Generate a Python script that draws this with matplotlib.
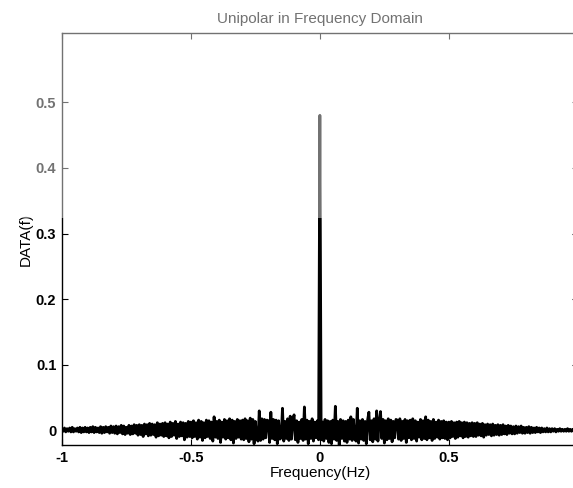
import numpy as np
import matplotlib
matplotlib.use("Agg")
import matplotlib.pyplot as plt
from matplotlib.patches import Rectangle

# Frequency axis: -1 Hz to just below 1 Hz in 0.005 Hz steps (400 bins)
freq_start = -1.0
freq_step = 0.005

# Spectrum of the unipolar signal, in thousandths (one row per 0.1 Hz)
data_f_milli = [
    3, -1, 4, -2, 3, -1, 4, -2, 5, -2, 3, -1, 4, -2, 5, -3, 4, -2, 5, -2,
    4, -3, 5, -2, 6, -3, 5, -2, 4, -3, 6, -4, 5, -3, 6, -2, 5, -4, 7, -3,
    6, -4, 7, -5, 6, -3, 8, -5, 7, -6, 5, -4, 8, -6, 7, -5, 9, -4, 8, -7,
    9, -6, 8, -9, 10, -5, 9, -8, 11, -7, 10, -6, 9, -10, 12, -8, 10, -7, 11, -9,
    12, -8, 10, -11, 13, -9, 11, -7, 14, -12, 10, -9, 13, -8, 12, -14, 11, -10, 14, -9,
    13, -11, 15, -9, 12, -13, 16, -10, 14, -15, 12, -11, 16, -9, 15, -12, 13, -16, 21, -10,
    14, -12, 16, -18, 13, -10, 17, -13, 15, -11, 18, -14, 16, -19, 14, -12, 17, -10, 15, -13,
    16, -14, 18, -12, 15, -17, 19, -13, 17, -20, 14, -12, -16, 30, -15, 18, -13, 17, -11, 16,
    15, -18, 28, -12, 17, -14, 16, -20, 15, -13, -11, 34, -16, 14, -12, 18, -15, 22, -13, 16,
    24, -14, 15, -18, 13, -12, 17, -15, 36, -13, 16, -20, 14, -12, 18, -16, 13, -11, 15, -14,
    480, -14, 13, -16, 17, -12, 15, -18, 14, -20, 16, -13, 37, -15, 14, -22, 17, -12, 15, -16,
    14, -18, 16, -13, 21, -15, 17, -12, -16, 34, -19, 15, -13, 17, -15, 14, -20, 16, 28, -14,
    15, -17, 18, -13, 30, -16, 14, 29, -12, 17, -19, 15, -14, 18, -12, 16, -17, 14, -11, 17,
    16, -13, 18, -15, 14, -12, 17, -18, 15, -11, 16, -14, 18, -12, 15, -16, 13, -10, 17, -14,
    15, -12, 21, -14, 16, -11, 14, -15, 17, -12, 13, -10, 16, -13, 14, -11, 15, -12, 13, -14,
    13, -11, 14, -9, 12, -12, 13, -10, 14, -8, 12, -11, 13, -9, 12, -10, 11, -8, 12, -9,
    11, -9, 12, -7, 10, -8, 11, -10, 9, -7, 10, -6, 9, -8, 10, -7, 8, -6, 9, -7,
    8, -6, 9, -5, 7, -6, 8, -4, 7, -5, 6, -5, 7, -4, 6, -3, 7, -4, 5, -4,
    5, -3, 6, -4, 5, -3, 4, -3, 5, -2, 4, -3, 4, -2, 3, -2, 4, -2, 3, -2,
    3, -1, 3, -2, 2, -1, 3, -1, 2, -1, 2, -1, 3, -1, 2, -1, 2, -1, 2, -1,
]

x_ticks = [-1, -0.5, 0, 0.5]
x_tick_labels = ["-1", "-0.5", "0", "0.5"]
y_ticks = [0, 0.1, 0.2, 0.3, 0.4, 0.5]
y_tick_labels = ["0", "0.1", "0.2", "0.3", "0.4", "0.5"]

data_f = np.array(data_f_milli) / 1000.0
freq = freq_start + freq_step * np.arange(len(data_f))

plt.rcParams["font.family"] = ["Liberation Sans", "DejaVu Sans"]

fig = plt.figure(figsize=(5.73, 4.88), dpi=100)
ax = fig.add_axes([0.108, 0.088, 0.9005, 0.844])

ax.plot(freq, data_f, color="black", linewidth=2.0)

ax.set_xlim(-1, 1)
ax.set_ylim(-0.022, 0.605)
ax.set_xticks(x_ticks)
ax.set_xticklabels(x_tick_labels)
ax.set_yticks(y_ticks)
ax.set_yticklabels(y_tick_labels)
ax.tick_params(direction="in", length=4, width=0.8, labelsize=10.5,
               top=True, right=True, pad=4)
for lbl in ax.get_xticklabels() + ax.get_yticklabels():
    lbl.set_fontweight("bold")

for side in ax.spines.values():
    side.set_linewidth(1.0)

ax.set_title("Unipolar in Frequency Domain", fontsize=11, pad=7)
ax.set_xlabel("Frequency(Hz)", fontsize=11, labelpad=1)
ax.set_ylabel("DATA(f)", fontsize=11, labelpad=2)

# Faded upper part of the printed page
fig.patches.append(Rectangle((0, 0.553), 1, 0.447, transform=fig.transFigure,
                             facecolor="white", alpha=0.45, edgecolor="none",
                             zorder=10))

fig.savefig("out.png", dpi=100)
